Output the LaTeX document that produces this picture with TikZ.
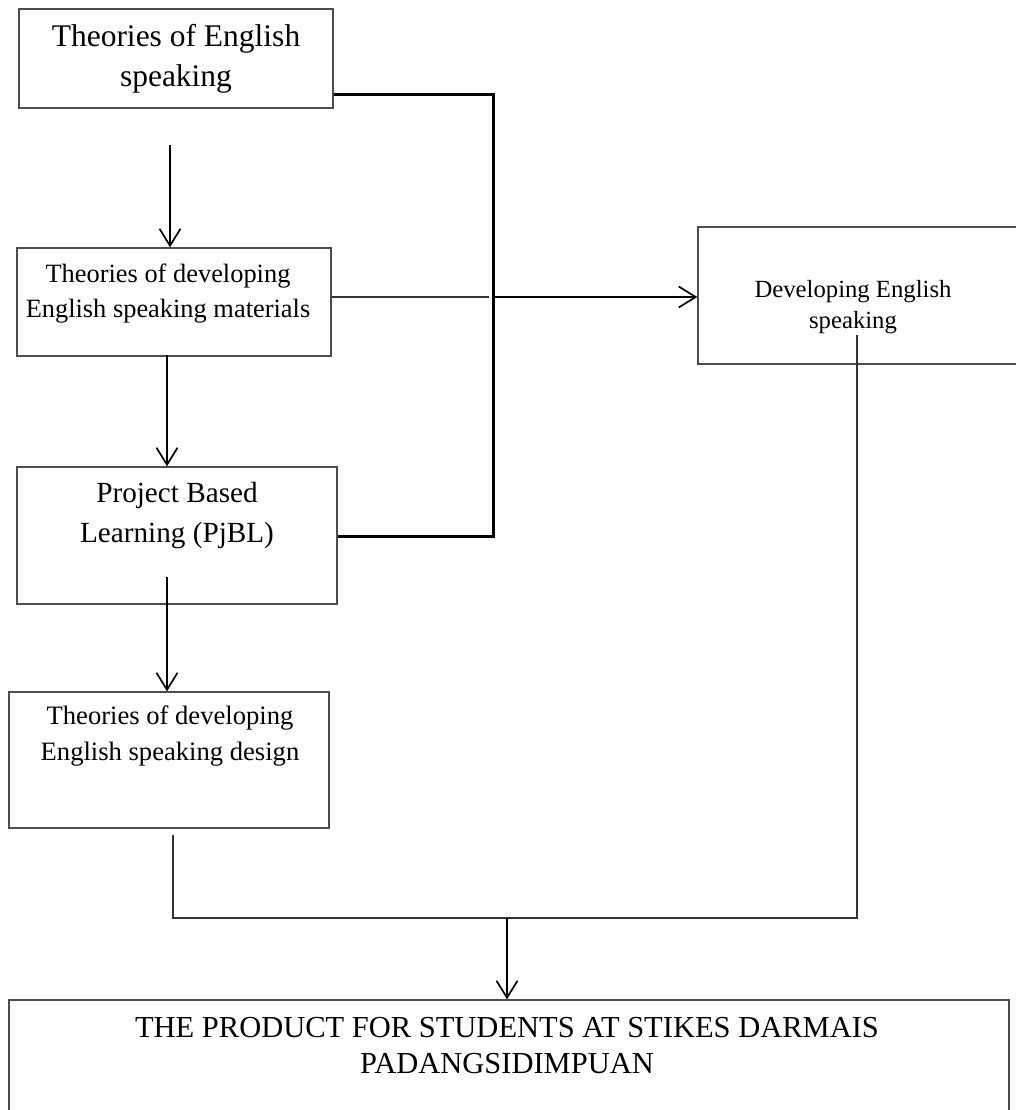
\documentclass[tikz,border=0pt]{standalone}
\usepackage{fontspec}
\setmainfont{Liberation Serif}
\usetikzlibrary{arrows.meta}

\begin{document}
\begin{tikzpicture}
[
                x = 1pt,
                y = -1pt,
         bx/.style = { draw=black!70, line width=1.3pt, rectangle, inner sep=0pt },
         tx/.style = { draw=none, fill=none, anchor=base, align=center, inner sep=0pt },
        arr/.style = { -{Straight Barb[length=17pt,width=21pt]}, line width=1.7pt },
       wire/.style = { draw=black!80, line width=1.5pt },
      bwire/.style = { draw=black, line width=3pt, line join=miter }
]
	\useasboundingbox (0,0) rectangle (1016,1110);

	\node (b1) at (176, 58.5) [bx, minimum width=314pt,  minimum height=99pt]  {};
	\node (b2) at (174, 302)  [bx, minimum width=314pt,  minimum height=108pt] {};
	\node (b3) at (177, 535.5)[bx, minimum width=320pt,  minimum height=137pt] {};
	\node (b4) at (169, 760)  [bx, minimum width=320pt,  minimum height=136pt] {};
	\node (b5) at (864, 295.5)[bx, minimum width=332pt,  minimum height=137pt] {};
	\node (b6) at (509, 1070) [bx, minimum width=1000pt, minimum height=140pt] {};

	% base = baseline of the last line
	\node (t1) at (176, 87)   [tx, font=\fontsize{31.5}{40}\selectfont] {Theories of English\\speaking};
	\node (t2) at (168, 317)  [tx, font=\fontsize{26.4}{35}\selectfont] {Theories of developing\\English speaking materials};
	\node (t3) at (177, 542)  [tx, font=\fontsize{29.2}{40}\selectfont] {Project Based\\Learning (PjBL)};
	\node (t4) at (170, 760)  [tx, font=\fontsize{26.6}{36}\selectfont] {Theories of developing\\English speaking design};
	\node (t5) at (853, 328)  [tx, font=\fontsize{24.7}{31}\selectfont] {Developing English\\speaking};
	\node (t6) at (507, 1073) [tx, font=\fontsize{30.5}{36}\selectfont] {THE PRODUCT FOR STUDENTS AT STIKES DARMAIS\\PADANGSIDIMPUAN};

	\coordinate (a1s) at (170, 145);
	\coordinate (a2s) at (167, 355);
	\coordinate (a3s) at (167, 577);
	\coordinate (jt)  at (493, 95);
	\coordinate (jb)  at (493, 536);
	\coordinate (jm)  at (489, 297);
	\coordinate (rs)  at (857, 335);
	\coordinate (ls)  at (173, 835);
	\coordinate (hb)  at (507, 918);

	\draw[arr] (a1s) -- (a1s |- b2.north);
	\draw[arr] (a2s) -- (a2s |- b3.north);
	\draw[arr] (a3s) -- (a3s |- b4.north);

	\draw[bwire] (b1.east |- jt) -- (jt) -- (jb) -- (b3.east |- jb);
	\draw[wire]  (b2.east |- jm) -- (jm);
	\draw[arr]   (jt |- jm) -- (b5.west |- jm);

	\draw[wire] (rs) -- (rs |- hb) -- (ls |- hb) -- (ls);
	\draw[arr]  (hb) -- (hb |- b6.north);

\end{tikzpicture}
\end{document}
